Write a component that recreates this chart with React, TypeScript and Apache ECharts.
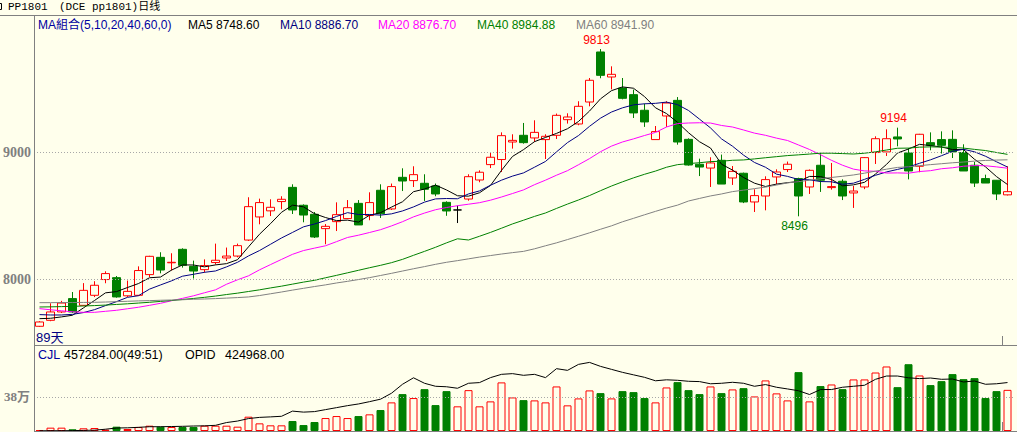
import React, { useEffect, useRef } from 'react';
import * as echarts from 'echarts';

// ---------- data ----------
const categories = Array.from({ length: 89 }, (_, i) => `D${i + 1}`);

const opens = [7630, 7677, 7743, 7848, 7795, 7874, 7998, 8013, 7870, 7874, 8037, 8173, 8130, 8236, 8102, 8076, 8132, 8168, 8183, 8309, 8491, 8539, 8612, 8724, 8583, 8512, 8399, 8454, 8478, 8598, 8502, 8701, 8554, 8803, 8777, 8756, 8735, 8606, 8546, 8632, 8782, 8903, 8943, 9081, 9134, 9113, 9100, 9134, 9257, 9223, 9396, 9790, 9593, 9506, 9454, 9331, 9100, 9286, 9409, 9102, 8906, 8876, 8937, 8798, 8835, 8609, 8656, 8806, 8864, 8793, 8727, 8898, 8722, 8772, 8680, 8727, 8998, 9003, 9121, 8995, 8890, 9076, 9100, 9102, 8998, 8898, 8793, 8780, 8665];
const closes = [7664, 7743, 7813, 7743, 7913, 7953, 8045, 7861, 7905, 8069, 8181, 8073, 8134, 8110, 8065, 8108, 8150, 8183, 8265, 8572, 8604, 8567, 8630, 8546, 8506, 8333, 8417, 8509, 8564, 8428, 8604, 8517, 8730, 8774, 8824, 8709, 8672, 8538, 8546, 8808, 8843, 8961, 9131, 9094, 9076, 9157, 9126, 9291, 9278, 9362, 9567, 9606, 9614, 9425, 9310, 9239, 9163, 9388, 9081, 8900, 8884, 8916, 8750, 8850, 8609, 8659, 8785, 8845, 8906, 8656, 8858, 8780, 8730, 8656, 8695, 8958, 9107, 9107, 9105, 8853, 9142, 9055, 9055, 9003, 8853, 8758, 8758, 8672, 8690];
const lows = [7625, 7670, 7735, 7735, 7790, 7860, 7969, 7855, 7860, 7870, 8018, 8047, 8069, 8092, 8006, 8053, 8116, 8144, 8173, 8302, 8433, 8498, 8551, 8514, 8449, 8325, 8276, 8380, 8475, 8428, 8465, 8483, 8546, 8695, 8727, 8617, 8654, 8500, 8443, 8619, 8764, 8876, 8845, 9029, 9068, 9081, 8947, 9105, 9226, 9213, 9362, 9583, 9496, 9417, 9270, 9200, 9100, 9200, 9060, 8895, 8813, 8727, 8750, 8743, 8600, 8530, 8543, 8748, 8845, 8496, 8672, 8688, 8706, 8624, 8562, 8710, 8908, 8971, 9047, 8787, 8843, 9016, 8990, 8955, 8853, 8727, 8758, 8624, 8660];
const highs = [7670, 7811, 7830, 7900, 7970, 7985, 8063, 8026, 7990, 8102, 8185, 8213, 8205, 8244, 8147, 8157, 8281, 8250, 8281, 8646, 8635, 8630, 8654, 8748, 8590, 8530, 8435, 8606, 8624, 8624, 8685, 8748, 8754, 8874, 8890, 8827, 8754, 8614, 8580, 8827, 8858, 8998, 9157, 9142, 9231, 9252, 9142, 9305, 9307, 9402, 9585, 9813, 9677, 9585, 9494, 9383, 9207, 9402, 9435, 9110, 8950, 8961, 8982, 8892, 8840, 8709, 8811, 8866, 8927, 8800, 8865, 8998, 8916, 8787, 8735, 8962, 9126, 9181, 9194, 9034, 9145, 9157, 9165, 9173, 9063, 8924, 8824, 8782, 8890];

// moving-average values visible before a full window exists
const ma5Head = [7690, 7693, 7704, 7717];
const ma10Head = [7722, 7719, 7719, 7724, 7738, 7761, 7793, 7824, 7858];
const ma20Head = [7769, 7760, 7752, 7744, 7740, 7740, 7748, 7756, 7768, 7780, 7795, 7811, 7831, 7850, 7870, 7894, 7917, 7961, 7996];
const ma40Head = [7782, 7783, 7785, 7787, 7790, 7793, 7797, 7802, 7807, 7813, 7819, 7826, 7833, 7841, 7849, 7858, 7868, 7880, 7891, 7904, 7917, 7932, 7946, 7962, 7978, 7992, 8012, 8031, 8051, 8071, 8091, 8110, 8131, 8157, 8189, 8220, 8252, 8287, 8319];
const ma60Head = [7816, 7816, 7817, 7817, 7818, 7819, 7821, 7824, 7827, 7830, 7832, 7835, 7837, 7839, 7843, 7845, 7848, 7852, 7856, 7861, 7872, 7886, 7900, 7915, 7929, 7943, 7956, 7971, 7984, 7998, 8013, 8030, 8047, 8065, 8083, 8100, 8118, 8134, 8147, 8161, 8175, 8187, 8199, 8210, 8220, 8240, 8264, 8287, 8313, 8339, 8366, 8394, 8421, 8453, 8480, 8508, 8535, 8561, 8584];

const volumes = [11000, 37000, 37000, 19000, 30000, 33000, 15000, 48000, 22000, 44000, 59000, 48000, 44000, 44000, 44000, 59000, 59000, 59000, 48000, 159000, 85000, 63000, 63000, 111000, 66000, 100000, 144000, 166000, 144000, 166000, 185000, 233000, 318000, 410000, 366000, 465000, 288000, 443000, 274000, 454000, 274000, 329000, 540000, 373000, 343000, 340000, 318000, 495000, 285000, 362000, 451000, 421000, 362000, 443000, 432000, 366000, 318000, 484000, 543000, 454000, 410000, 495000, 421000, 462000, 476000, 384000, 562000, 418000, 340000, 654000, 329000, 499000, 517000, 465000, 573000, 573000, 650000, 717000, 487000, 742000, 617000, 510000, 554000, 632000, 576000, 587000, 366000, 443000, 457284];
const openInterest = [2000, 2600, 2600, 3500, 5200, 7000, 15700, 26200, 27900, 32300, 37500, 37500, 39200, 41000, 43600, 45300, 49700, 74100, 87200, 109000, 119500, 123800, 129100, 174400, 165700, 170100, 187500, 204900, 222400, 237200, 257300, 279100, 331400, 409900, 466600, 418600, 392400, 388100, 375000, 418600, 424700, 468300, 497100, 503200, 488400, 497100, 468300, 546800, 532000, 584300, 601700, 566900, 540700, 514500, 492700, 470900, 440400, 449100, 444800, 436000, 433400, 414200, 418600, 427300, 418600, 392400, 407300, 383700, 368900, 353200, 320100, 363700, 363700, 383700, 392400, 401200, 453500, 482300, 482300, 466600, 459600, 464800, 453500, 456100, 430000, 438700, 409900, 414200, 424968];

const priceTicks = [8000, 9000];
const volumeTicks = [380000];
const volumeTickLabels = ['38万'];

const peakMarks = [
  { index: 51, field: 'high' },
  { index: 78, field: 'high' },
  { index: 69, field: 'low' },
];

const titleTexts = ['PP1801', '(DCE pp1801)日线'];
const legendTexts = ['MA組合(5,10,20,40,60,0)', 'MA5 8748.60', 'MA10 8886.70', 'MA20 8876.70', 'MA40 8984.88', 'MA60 8941.90'];
const volumeLegendTexts = ['CJL', '457284.00(49:51)', 'OPID', '424968.00'];
const dayCountText = '89天';

// ---------- styles ----------
const BG = '#ffffec';
const UP = '#ff0000';
const DOWN = '#008000';
const GRID_GRAY = '#808080';
const maColors = ['#000000', '#000080', '#ff00ff', '#008000', '#808080'];
const legendColors = ['#0000a0', '#000000', '#000080', '#ff00ff', '#008000', '#808080'];
const legendX = [38, 188, 280, 378, 477, 576];
const volumeLegendColors = ['#0000a0', '#000000', '#000000', '#000000'];
const volumeLegendX = [38, 64, 185, 225];

function movingAverage(n: number, head: number[]): number[] {
  return closes.map((_, i) => {
    if (i < n - 1) return head[i];
    let s = 0;
    for (let k = i - n + 1; k <= i; k++) s += closes[k];
    return +(s / n).toFixed(2);
  });
}

export default function App() {
  const ref = useRef<HTMLDivElement>(null);

  useEffect(() => {
    if (!ref.current) return;
    const chart = echarts.init(ref.current, null, { renderer: 'svg' });

    const maSeries = [
      movingAverage(5, ma5Head),
      movingAverage(10, ma10Head),
      movingAverage(20, ma20Head),
      movingAverage(40, ma40Head),
      movingAverage(60, ma60Head),
    ];
    const maNames = ['MA5', 'MA10', 'MA20', 'MA40', 'MA60'];

    const candleData = opens.map((o, i) => [o, closes[i], lows[i], highs[i]]);
    const volData = volumes.map((v, i) => {
      const up = closes[i] >= opens[i];
      return {
        value: v,
        itemStyle: {
          color: up ? BG : DOWN,
          borderColor: up ? UP : DOWN,
          borderWidth: 1,
        },
      };
    });

    const sansFont = '"Liberation Sans", "Noto Sans CJK TC", sans-serif';

    const graphic: any[] = [
      // frame lines
      { type: 'line', shape: { x1: 0, y1: 15.5, x2: 1017, y2: 15.5 }, style: { stroke: GRID_GRAY, lineWidth: 1 }, z: 10 },
      { type: 'line', shape: { x1: 34.5, y1: 16, x2: 34.5, y2: 432 }, style: { stroke: GRID_GRAY, lineWidth: 1 }, z: 10 },
      { type: 'line', shape: { x1: 34, y1: 345.5, x2: 1017, y2: 345.5 }, style: { stroke: GRID_GRAY, lineWidth: 1 }, z: 10 },
      { type: 'line', shape: { x1: 34, y1: 431.5, x2: 1017, y2: 431.5 }, style: { stroke: GRID_GRAY, lineWidth: 1 }, z: 10 },
      { type: 'line', shape: { x1: 1002.5, y1: 336, x2: 1002.5, y2: 345 }, style: { stroke: GRID_GRAY, lineWidth: 1 }, z: 10 },
      { type: 'line', shape: { x1: 1002.5, y1: 422, x2: 1002.5, y2: 431 }, style: { stroke: GRID_GRAY, lineWidth: 1 }, z: 10 },
      { type: 'rect', shape: { x: -3.5, y: 3.5, width: 5, height: 6 }, style: { stroke: '#000000', fill: 'none', lineWidth: 1 }, z: 10 },
      // title
      { type: 'text', x: 8, y: 7, style: { text: titleTexts[0], fill: '#000000', font: '11px "Liberation Mono", monospace', verticalAlign: 'middle' }, z: 10 },
      { type: 'text', x: 59, y: 7, style: { text: titleTexts[1], fill: '#000000', font: '11px "Liberation Mono", "Noto Sans CJK SC", monospace', verticalAlign: 'middle' }, z: 10 },
      // day count
      { type: 'text', x: 36, y: 337, style: { text: dayCountText, fill: '#000080', font: '13px "Liberation Sans", "Noto Sans CJK SC", sans-serif', verticalAlign: 'middle' }, z: 10 },
    ];
    legendTexts.forEach((t, i) => {
      graphic.push({ type: 'text', x: legendX[i], y: 24.5, style: { text: t, fill: legendColors[i], font: `12px ${sansFont}`, verticalAlign: 'middle' }, z: 10 });
    });
    volumeLegendTexts.forEach((t, i) => {
      graphic.push({ type: 'text', x: volumeLegendX[i], y: 355, style: { text: t, fill: volumeLegendColors[i], font: `12.5px ${sansFont}`, verticalAlign: 'middle' }, z: 10 });
    });

    const option: any = {
      animation: false,
      backgroundColor: BG,
      grid: [
        { left: 34, right: 4, top: 25.3, height: 317.5 },
        { left: 34, right: 4, top: 345.5, height: 85.5 },
      ],
      xAxis: [
        { type: 'category', data: categories, gridIndex: 0, boundaryGap: true, show: false },
        { type: 'category', data: categories, gridIndex: 1, boundaryGap: true, show: false },
      ],
      yAxis: [
        {
          type: 'value', gridIndex: 0, min: 7500, max: 10000, interval: 500,
          axisLine: { show: false }, axisTick: { show: false }, splitLine: { show: false },
          axisLabel: {
            formatter: (v: number) => (priceTicks.includes(v) ? String(v) : ''),
            color: '#808080', fontFamily: '"Liberation Serif", serif', fontSize: 14, fontWeight: 'bold', margin: 3,
          },
        },
        {
          type: 'value', gridIndex: 1, min: 0, max: 950000, interval: 380000,
          axisLine: { show: false }, axisTick: { show: false }, splitLine: { show: false },
          axisLabel: {
            formatter: (v: number) => {
              const k = volumeTicks.indexOf(v);
              return k >= 0 ? volumeTickLabels[k] : '';
            },
            color: '#808080', fontFamily: '"Liberation Serif", "Noto Sans CJK SC", serif', fontSize: 13, fontWeight: 'bold', margin: 4,
          },
        },
        { type: 'value', gridIndex: 1, min: 0, max: 750000, show: false },
      ],
      graphic,
      series: [
        {
          type: 'candlestick',
          xAxisIndex: 0, yAxisIndex: 0,
          data: candleData,
          barWidth: 8,
          z: 2,
          itemStyle: {
            color: BG, color0: DOWN, borderColor: UP, borderColor0: DOWN, borderColorDoji: '#000000', borderWidth: 1,
          },
          markLine: {
            silent: true, symbol: 'none', animation: false,
            label: { show: false },
            lineStyle: { color: '#a8a8a8', type: [1, 2], width: 1 },
            data: priceTicks.map((v) => ({ yAxis: v })),
          },
          markPoint: {
            silent: true, animation: false,
            symbol: 'circle', symbolSize: 1,
            itemStyle: { color: 'rgba(0,0,0,0)' },
            data: peakMarks.map((m) => {
              const isHigh = m.field === 'high';
              const val = isHigh ? highs[m.index] : lows[m.index];
              return {
                coord: [m.index, val],
                value: val,
                label: {
                  show: true,
                  position: isHigh ? 'top' : 'bottom',
                  distance: 3,
                  offset: [-4, 0],
                  color: isHigh ? UP : DOWN,
                  fontSize: 12,
                  fontFamily: '"Liberation Sans", sans-serif',
                  formatter: String(val),
                },
              };
            }),
          },
        },
        ...maSeries.map((d, k) => ({
          type: 'line',
          name: maNames[k],
          xAxisIndex: 0, yAxisIndex: 0,
          data: d,
          symbol: 'none', showSymbol: false,
          z: 3,
          lineStyle: { color: maColors[k], width: 1 },
        })),
        {
          type: 'bar',
          xAxisIndex: 1, yAxisIndex: 1,
          data: volData,
          barWidth: 8,
          z: 2,
          markLine: {
            silent: true, symbol: 'none', animation: false,
            label: { show: false },
            lineStyle: { color: '#a8a8a8', type: [1, 2], width: 1 },
            data: volumeTicks.map((v) => ({ yAxis: v })),
          },
        },
        {
          type: 'line',
          xAxisIndex: 1, yAxisIndex: 2,
          data: openInterest,
          symbol: 'none', showSymbol: false,
          z: 3,
          lineStyle: { color: '#000000', width: 1 },
        },
      ],
    };

    chart.setOption(option);
    return () => chart.dispose();
  }, []);

  return (
    <div
      ref={ref}
      style={{ position: 'fixed', left: 0, top: 0, width: '1017px', height: '432px', background: BG }}
    />
  );
}
